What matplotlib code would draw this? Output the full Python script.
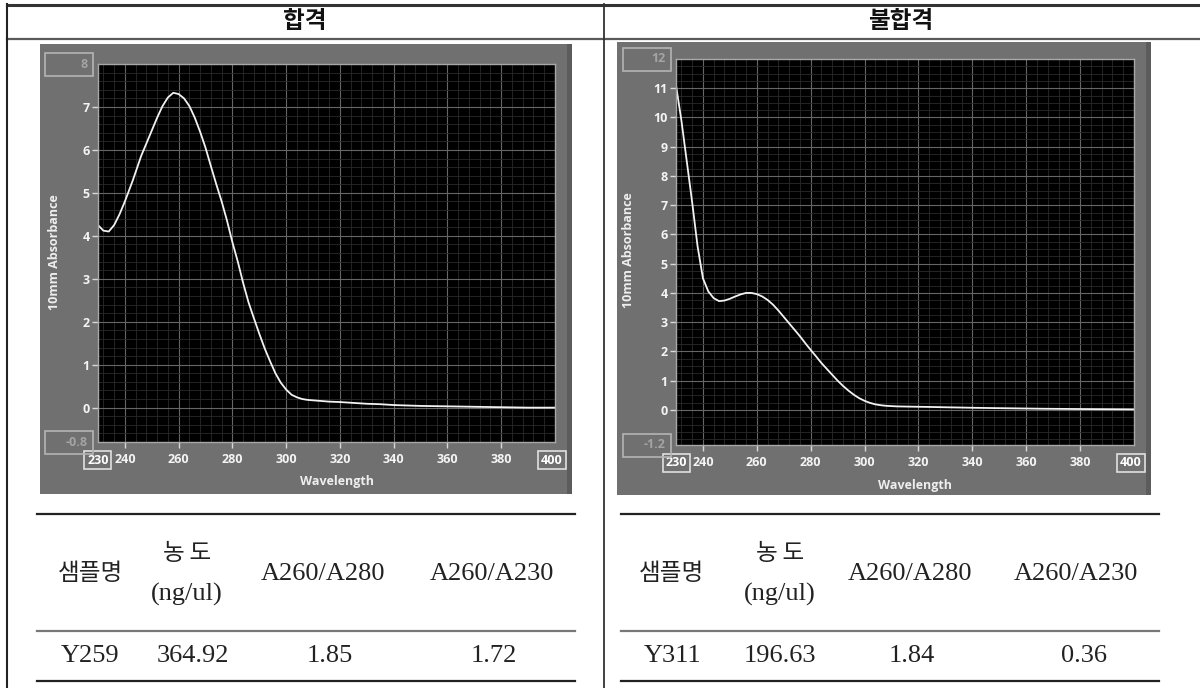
import matplotlib
matplotlib.use('Agg')
import matplotlib.pyplot as plt
from matplotlib.patches import Rectangle
from matplotlib.lines import Line2D
from matplotlib.ticker import MultipleLocator

# ---------------- data ----------------
panel_titles = ['합격', '불합격']

pass_wavelength = [230, 232, 234, 236, 238, 240, 243, 246, 248, 250, 252, 254, 256, 258,
                   260, 262, 264, 266, 268, 270, 272, 274, 276, 278, 280, 282, 284, 286,
                   288, 290, 292, 294, 296, 298, 300, 302, 304, 306, 308, 312, 316, 320,
                   325, 330, 335, 340, 345, 350, 360, 370, 380, 390, 400]
pass_absorbance = [4.25, 4.12, 4.10, 4.25, 4.50, 4.80, 5.30, 5.85, 6.15, 6.45, 6.75, 7.02,
                   7.22, 7.33, 7.30, 7.20, 7.02, 6.75, 6.42, 6.05, 5.62, 5.20, 4.80, 4.35,
                   3.85, 3.40, 2.90, 2.45, 2.08, 1.72, 1.38, 1.08, 0.80, 0.58, 0.42, 0.30,
                   0.24, 0.20, 0.18, 0.16, 0.14, 0.13, 0.11, 0.09, 0.08, 0.06, 0.05, 0.04,
                   0.03, 0.02, 0.01, 0.00, 0.00]

fail_wavelength = [230, 232, 234, 236, 238, 240, 242, 244, 246, 248, 250, 252, 254, 256,
                   258, 260, 262, 264, 266, 268, 270, 272, 274, 276, 278, 280, 282, 284,
                   286, 288, 290, 292, 294, 296, 298, 300, 302, 304, 306, 308, 312, 318,
                   325, 330, 342, 350, 366, 380, 400]
fail_absorbance = [11.1, 9.9, 8.5, 7.1, 5.6, 4.5, 4.05, 3.82, 3.72, 3.74, 3.80, 3.88, 3.95,
                   4.00, 4.00, 3.96, 3.88, 3.76, 3.60, 3.40, 3.18, 2.96, 2.74, 2.52, 2.28,
                   2.05, 1.83, 1.60, 1.40, 1.20, 1.00, 0.82, 0.66, 0.52, 0.40, 0.31, 0.24,
                   0.19, 0.16, 0.14, 0.12, 0.11, 0.10, 0.09, 0.07, 0.06, 0.04, 0.03, 0.02]

x_limits = [230, 400]
pass_y_limits = [-0.8, 8]
fail_y_limits = [-1.2, 12]
x_tick_values = [240, 260, 280, 300, 320, 340, 360, 380]
pass_y_ticks = [0, 1, 2, 3, 4, 5, 6, 7]
fail_y_ticks = [0, 1, 2, 3, 4, 5, 6, 7, 8, 9, 10, 11]
x_label = 'Wavelength'
y_label = '10mm Absorbance'

table_header = ['샘플명', '농\u2009도', '(ng/ul)', 'A260/A280', 'A260/A230']
pass_row = ['Y259', '364.92', '1.85', '1.72']
fail_row = ['Y311', '196.63', '1.84', '0.36']

# ---------------- figure ----------------
W, H = 1200, 688
fig = plt.figure(figsize=(12, 6.88), dpi=100)
fig.patch.set_facecolor('white')

KR = ['Noto Sans CJK KR', 'DejaVu Sans']
SERIF = ['Liberation Serif', 'Noto Sans CJK KR']
UI = ['Open Sans', 'DejaVu Sans']


def px_rect(x0, y0, x1, y1):
    return [x0 / W, 1 - y1 / H, (x1 - x0) / W, (y1 - y0) / H]


def hline(x0, x1, y, **kw):
    fig.add_artist(Line2D([x0 / W, x1 / W], [1 - y / H, 1 - y / H],
                          transform=fig.transFigure, **kw))


def vline(x, y0, y1, **kw):
    fig.add_artist(Line2D([x / W, x / W], [1 - y0 / H, 1 - y1 / H],
                          transform=fig.transFigure, **kw))


def ftext(x, y, s, **kw):
    fig.text(x / W, 1 - y / H, s, **kw)


def fbox(x0, y0, x1, y1, **kw):
    fig.add_artist(Rectangle((x0 / W, 1 - y1 / H), (x1 - x0) / W, (y1 - y0) / H,
                             transform=fig.transFigure, **kw))


# outer table frame
hline(7, 1200, 5, color='#333333', lw=2.2)
hline(7, 1200, 38.5, color='#5a5a5a', lw=1.6)
vline(7, 4, 688, color='#222222', lw=1.5)
vline(604, 4, 688, color='#333333', lw=1.3)

ftext(305, 21, panel_titles[0], family=KR, fontsize=17, fontweight='bold',
      ha='center', va='center', color='#111111')
ftext(901, 21, panel_titles[1], family=KR, fontsize=17, fontweight='bold',
      ha='center', va='center', color='#111111')


def draw_panel(panel_px, ax_px, wl, ab, ylims, yticks, xlabel_pos, ylabel_pos):
    # gray instrument window
    fbox(*panel_px, facecolor='#707070', edgecolor='none', zorder=0)
    fbox(panel_px[2] - 5, panel_px[1], panel_px[2], panel_px[3],
         facecolor='#5c5c5c', edgecolor='none', zorder=0)

    ax = fig.add_axes(px_rect(*ax_px))
    ax.set_facecolor('black')
    ax.plot(wl, ab, color='#f2f2f2', lw=1.3, solid_joinstyle='round')
    ax.set_xlim(*x_limits)
    ax.set_ylim(*ylims)
    ax.set_xticks(x_tick_values)
    ax.set_yticks(yticks)
    ax.xaxis.set_minor_locator(MultipleLocator(4))
    ax.yaxis.set_minor_locator(MultipleLocator(0.2 if ylims[1] < 10 else 0.25))
    ax.grid(which='minor', color='#2a2a2a', lw=0.6)
    ax.grid(which='major', color='#666666', lw=0.8)
    ax.set_axisbelow(True)
    ax.tick_params(which='minor', length=0)
    ax.tick_params(which='major', colors='#d8d8d8', length=4, width=1,
                   labelcolor='#f4f4f4', labelsize=9)
    ax.tick_params(axis='x', pad=4)
    ax.tick_params(axis='y', pad=2)
    for lab in ax.get_xticklabels() + ax.get_yticklabels():
        lab.set_fontweight('bold')
        lab.set_family(UI)
    for sp in ax.spines.values():
        sp.set_color('#a8a8a8')
        sp.set_linewidth(1.0)

    # y-limit boxes (editable fields)
    x0, y0, x1, y1 = ax_px
    for yv, ypx in ((ylims[1], y0), (ylims[0], y1)):
        fbox(x0 - 53, ypx - 11.5, x0 - 5, ypx + 11.5, facecolor='none',
             edgecolor='#b4b4b4', lw=1.2)
        ax.annotate(f'{yv:g}', xy=(0, yv), xycoords=('axes fraction', 'data'),
                    xytext=(-10, 0), textcoords='offset pixels', ha='right',
                    va='center', color='#a4a4a4', fontsize=9, fontweight='bold',
                    family=UI, annotation_clip=False)
    # x-limit boxes
    for xv, dx in ((x_limits[0], 0), (x_limits[1], -3)):
        ax.annotate(f'{xv:g}', xy=(xv, 0), xycoords=('data', 'axes fraction'),
                    xytext=(dx, -18), textcoords='offset pixels', ha='center',
                    va='center', color='#ffffff', fontsize=9, fontweight='bold',
                    family=UI, annotation_clip=False,
                    bbox=dict(boxstyle='square,pad=0.22', fc='none',
                              ec='#e0e0e0', lw=1.2))

    ftext(*xlabel_pos, x_label, family=UI, fontsize=9, fontweight='bold',
          color='#eeeeee', ha='center', va='center')
    ftext(*ylabel_pos, y_label, family=UI, fontsize=9, fontweight='bold',
          color='#eeeeee', ha='center', va='center', rotation=90)


draw_panel((40, 44, 572, 494), (98, 64, 555, 442), pass_wavelength, pass_absorbance,
           pass_y_limits, pass_y_ticks, (337, 481), (54, 252))
draw_panel((617, 42, 1151, 495), (676, 59, 1134, 445), fail_wavelength, fail_absorbance,
           fail_y_limits, fail_y_ticks, (915, 485), (629, 250))


def draw_table(x0, x1, head_x, data_x, row):
    hline(x0, x1, 514, color='#222222', lw=1.6)
    hline(x0, x1, 631, color='#777777', lw=1.6)
    hline(x0, x1, 680.5, color='#222222', lw=1.6)
    ftext(head_x[0], 574, table_header[0], family=KR, fontsize=17,
          ha='center', va='center', color='#222222')
    ftext(head_x[1], 553, table_header[1], family=KR, fontsize=17,
          ha='center', va='center', color='#222222')
    ftext(head_x[1], 594, table_header[2], family=SERIF, fontsize=19,
          ha='center', va='center', color='#222222')
    ftext(head_x[2], 574, table_header[3], family=SERIF, fontsize=19,
          ha='center', va='center', color='#222222')
    ftext(head_x[3], 574, table_header[4], family=SERIF, fontsize=19,
          ha='center', va='center', color='#222222')
    for xv, s in zip(data_x, row):
        ftext(xv, 656, s, family=SERIF, fontsize=19, ha='center', va='center',
              color='#222222')


draw_table(37, 575, [90, 187, 323, 492], [90, 193, 330, 494], pass_row)
draw_table(621, 1159, [671, 780, 910, 1076], [673, 780, 912, 1084], fail_row)

fig.savefig('out.png', dpi=100)
